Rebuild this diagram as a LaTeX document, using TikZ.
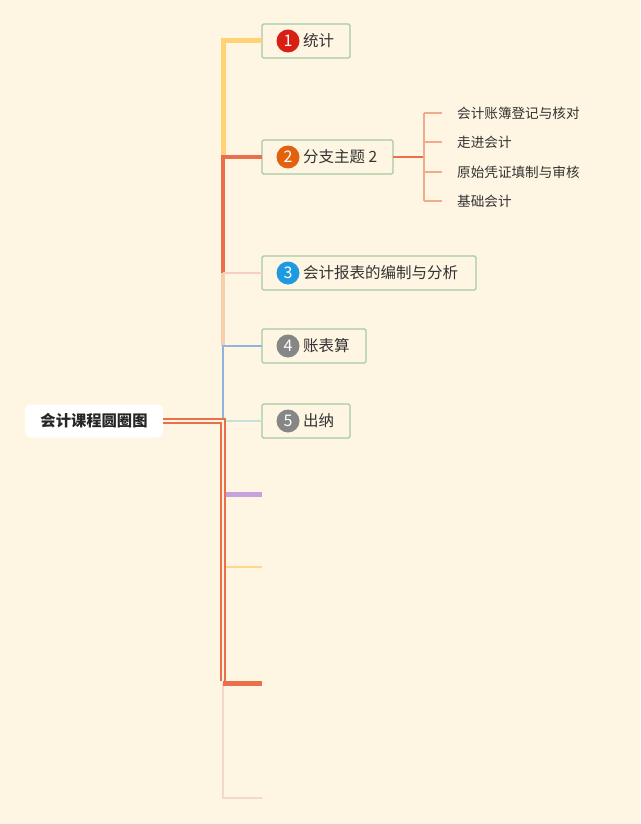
\documentclass[tikz,border=0pt]{standalone}
\usepackage{fontspec}
\setmainfont{Noto Sans CJK SC}
\definecolor{bg}{HTML}{FEF5E2}
\definecolor{cyel}{HTML}{FFD275}
\definecolor{cred}{HTML}{E9704B}
\definecolor{cpink}{HTML}{F6CFC2}
\definecolor{cpeach}{HTML}{F8CFAE}
\definecolor{cblue}{HTML}{8FB5DC}
\definecolor{cteal}{HTML}{C5E2DA}
\definecolor{cpurp}{HTML}{C6A2DD}
\definecolor{cyel2}{HTML}{FFD88A}
\definecolor{clpink}{HTML}{F6D8C8}
\definecolor{cborder}{HTML}{A6C9A5}
\definecolor{ncred}{HTML}{D71F14}
\definecolor{ncorange}{HTML}{E2610F}
\definecolor{ncblue}{HTML}{1E9BE0}
\definecolor{ncgray}{HTML}{868686}
\definecolor{csubl}{HTML}{F2AA8E}
\definecolor{ctext}{HTML}{333333}
\begin{document}
\begin{tikzpicture}[x=1pt,y=-1pt,
  topicbox/.style={draw=cborder, line width=1.1pt, fill=bg, rounded corners=1.5pt, anchor=north west, inner sep=0pt, outer sep=0pt},
  numc/.style={circle, fill=#1, minimum size=23pt, inner sep=0pt, text=white, font=\fontsize{16}{16}\selectfont},
  ttext/.style={anchor=west, inner sep=0pt, text=ctext, font=\fontsize{15.5}{18}\selectfont},
  stext/.style={anchor=west, inner sep=0pt, text=ctext, font=\fontsize{13.6}{16}\selectfont},
  subline/.style={draw=csubl, line width=1.3pt},
]
\fill[bg] (0,0) rectangle (640,824);
\useasboundingbox (0,0) rectangle (640,824);

% root
\node[fill=white, rounded corners=5pt, minimum width=138pt, minimum height=33pt, inner sep=0pt, outer sep=0pt,
      text=black!85, font=\bfseries\fontsize{15.3}{18}\selectfont] (root) at (94,421) {会计课程圆圈图};

% topic boxes
\node[topicbox, minimum width=88pt, minimum height=34pt] (b1) at (262,24) {};
\node[topicbox, minimum width=131pt, minimum height=34pt] (b2) at (262,140) {};
\node[topicbox, minimum width=214pt, minimum height=34pt] (b3) at (262,256) {};
\node[topicbox, minimum width=104pt, minimum height=34pt] (b4) at (262,329) {};
\node[topicbox, minimum width=88pt, minimum height=34pt] (b5) at (262,404) {};

% junction and free ends
\coordinate (j) at (223,421);
\coordinate (k1) at (223,157);
\coordinate (k2) at (223,273);
\coordinate (k3) at (223,346);
\coordinate (k6) at (223,683);
\coordinate (e6) at (262,494);
\coordinate (e7) at (262,567);
\coordinate (e8) at (262,683);
\coordinate (e9) at (262,798);

% branch connectors
\draw[clpink, line width=1.5pt] (k6) |- (e9);
\draw[cyel, line width=5pt] (k1) |- (b1.west);
\draw[cred, line width=4.5pt] (k2) |- (b2.west);
\draw[cpeach, line width=3.5pt] (k3) -- (k2);
\draw[cpink, line width=2pt] (k2) -- (b3.west);
\draw[cblue, line width=2.5pt] (j) |- (b4.west);
\draw[cteal, line width=1.5pt] (j) -- (b5.west);
\draw[cpurp, line width=5pt] (225,494) -- (e6);
\draw[cyel2, line width=1.5pt] (225,567) -- (e7);
\draw[cred, line width=5pt] (k6) -- (e8);
\draw[cred, line width=1.9pt, double=bg, double distance=1.5pt] (root.east) -- (j) -- ([yshift=2pt]k6);

% number circles and texts
\node[numc=ncred] (c1) at (288,41) {1};
\node[ttext] (t1) at (303,41) {统计};
\node[numc=ncorange] (c2) at (288,157) {2};
\node[ttext] (t2) at (303,157) {分支主题 2};
\node[numc=ncblue] (c3) at (288,273) {3};
\node[ttext] (t3) at (303,273) {会计报表的编制与分析};
\node[numc=ncgray] (c4) at (288,346) {4};
\node[ttext] (t4) at (303,346) {账表算};
\node[numc=ncgray] (c5) at (288,421) {5};
\node[ttext] (t5) at (303,421) {出纳};

% subtopics
\coordinate (sj) at (424,157);
\coordinate (st) at (424,113);
\coordinate (sb) at (424,201);
\draw[cred, line width=1.8pt] (b2.east) -- (sj);
\draw[subline] (st) -- (sb);
\foreach \i/\yy in {1/113,2/142,3/172,4/201}{
  \coordinate (m\i) at (442,\yy);
  \draw[subline] (424,\yy) -- (m\i);
}
\node[stext] (s1) at (457,113) {会计账簿登记与核对};
\node[stext] (s2) at (457,142) {走进会计};
\node[stext] (s3) at (457,172) {原始凭证填制与审核};
\node[stext] (s4) at (457,201) {基础会计};
\end{tikzpicture}
\end{document}
